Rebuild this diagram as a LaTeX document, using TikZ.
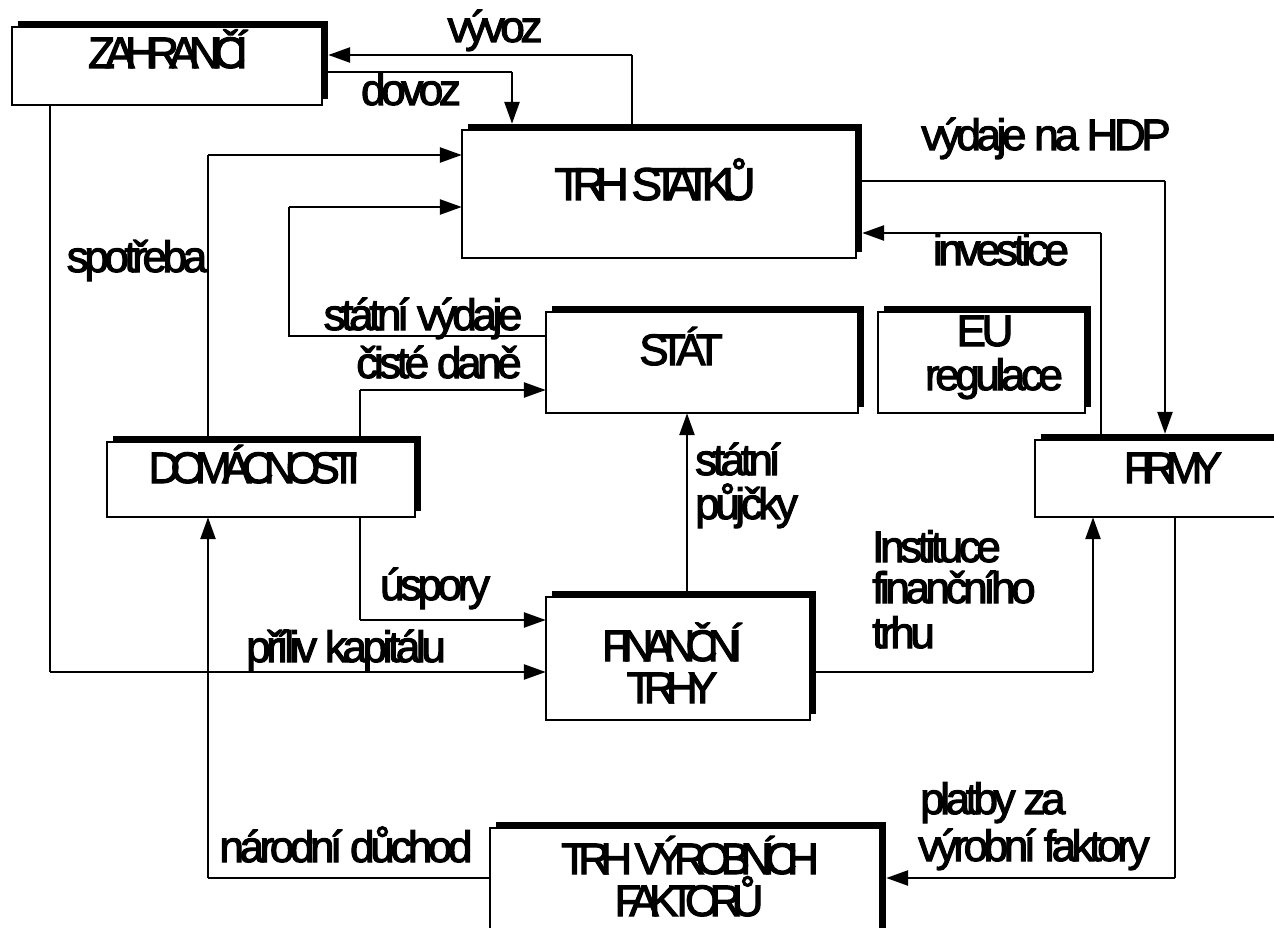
\documentclass[tikz,border=0pt]{standalone}
\usepackage{fontspec}
\setmainfont{Liberation Sans}
\newfontfamily\boxfont{Liberation Sans}[LetterSpace=-22, FakeBold=2.5]
\newfontfamily\labfont{Liberation Sans}[LetterSpace=-10, FakeBold=2.5]
\usetikzlibrary{arrows.meta,shadows}
\begin{document}
\begin{tikzpicture}[x=1pt,y=-1pt,
  box/.style={draw=black, fill=white, line width=1.6pt, inner sep=0pt,
    drop shadow={shadow xshift=6pt, shadow yshift=6pt, opacity=1, fill=black}},
  conn/.style={line width=2pt},
  arr/.style={line width=2.6pt, -{Triangle[length=22pt,width=15pt]}},
  bt/.style={font=\boxfont\fontsize{44}{36}\selectfont, inner sep=0pt, anchor=base},
  lt/.style={font=\labfont\fontsize{44}{38}\selectfont, inner sep=0pt, anchor=base},
  ml/.style={font=\labfont\fontsize{44}{37}\selectfont, inner sep=0pt, anchor=base west}]
\useasboundingbox (0,0) rectangle (1274,928);
\fill[white] (0,0) rectangle (1274,928);

% box nodes
\path
  (167,66)     node[minimum width=310, minimum height=78]  (zah)  {}
  (659,194)    node[minimum width=394, minimum height=128] (ts)   {}
  (702,362.5)  node[minimum width=312, minimum height=101] (stat) {}
  (981.5,362.5) node[minimum width=207, minimum height=101] (eu)  {}
  (261,479.5)  node[minimum width=308, minimum height=75]  (dom)  {}
  (1162.5,478.5) node[minimum width=255, minimum height=77] (fir) {}
  (678,658.5)  node[minimum width=264, minimum height=123] (fin)  {}
  (685,884)    node[minimum width=390, minimum height=112] (trhv) {};

% bend coordinates
\coordinate (vx) at (632,55);
\coordinate (dv) at (512,72);
\coordinate (sp) at (208,155);
\coordinate (sv) at (289,336);
\coordinate (sv2) at (289,207);
\coordinate (cd) at (360,390);
\coordinate (vh) at (1165,181);
\coordinate (iv) at (1101,233);
\coordinate (sj) at (687,500);
\coordinate (us) at (360,620);
\coordinate (pk) at (50,672);
\coordinate (ff) at (1093,672);
\coordinate (pl) at (1175,878);
\coordinate (nd) at (208,878);

% connectors
\draw[conn] (ts.north -| vx) -- (vx);
\draw[arr] (vx) -- ([xshift=6pt]zah.east |- vx);
\draw[conn] (zah.east |- dv) -- (dv);
\draw[arr] (dv) -- ([yshift=6pt]dv |- ts.north);
\draw[conn] (dom.north -| sp) -- (sp);
\draw[arr] (sp) -- (ts.west |- sp);
\draw[conn] (stat.west |- sv) -- (sv) -- (sv2);
\draw[arr] (sv2) -- (ts.west |- sv2);
\draw[conn] (dom.north -| cd) -- (cd);
\draw[arr] (cd) -- (stat.west |- cd);
\draw[conn] (ts.east |- vh) -- (vh);
\draw[arr] (vh) -- ([yshift=6pt]vh |- fir.north);
\draw[conn] (fir.north -| iv) -- (iv);
\draw[arr] (iv) -- ([xshift=6pt]ts.east |- iv);
\draw[arr] (fin.north -| sj) -- (stat.south -| sj);
\draw[conn] (dom.south -| us) -- (us);
\draw[arr] (us) -- (fin.west |- us);
\draw[conn] (zah.south -| pk) -- (pk);
\draw[arr] (pk) -- (fin.west |- pk);
\draw[conn] (fin.east |- ff) -- (ff);
\draw[arr] (ff) -- (ff |- fir.south);
\draw[conn] (fir.south -| pl) -- (pl);
\draw[arr] (pl) -- ([xshift=6pt]trhv.east |- pl);
\draw[conn] (trhv.west |- nd) -- (nd);
\draw[arr] (nd) -- (nd |- dom.south);

% boxes drawn over connector starts
\foreach \b in {zah,ts,stat,eu,dom,fir,fin,trhv}{
  \path[box] (\b.south west) rectangle (\b.north east);
}

% box texts
\node[bt] (tzah) at (168,68) {ZAHRANIČÍ};
\node[bt, font=\boxfont\fontsize{46}{38}\selectfont] (tts) at (655,200) {TRH STATKŮ};
\node[bt] (tstat) at (681,365) {STÁT};
\node[lt] (teu1) at (985,346) {EU};
\node[lt] (teu2) at (994,390) {regulace};
\node[bt] (tdom) at (254,483) {DOMÁCNOSTI};
\node[bt] (tfir) at (1173,483) {FIRMY};
\node[bt] (tfin1) at (672,661) {FINANČNÍ};
\node[bt] (tfin2) at (672,703) {TRHY};
\node[bt] (ttrhv1) at (690,874) {TRH VÝROBNÍCH};
\node[bt] (ttrhv2) at (689,916) {FAKTORŮ};

% connector labels
\node[lt] (lvyvoz) at (495,42) {vývoz};
\node[lt] (ldovoz) at (411,105) {dovoz};
\node[lt] (lhdp) at (1046,150) {výdaje na HDP};
\node[lt] (linv) at (1001,265) {investice};
\node[lt] (lspot) at (137,272) {spotřeba};
\node[lt] (lsv) at (423,330) {státní výdaje};
\node[lt] (lcd) at (439,378) {čisté daně};
\node[lt] (lus) at (435,600) {úspory};
\node[lt] (lpk) at (346,662) {příliv kapitálu};
\node[lt] (lnd) at (346,862) {národní důchod};
\node[ml] (lsj1) at (695,475) {státní};
\node[ml] (lsj2) at (695,519) {půjčky};
\node[ml] (lift1) at (872,562) {Instituce};
\node[ml] (lift2) at (872,603) {finančního};
\node[ml] (lift3) at (872,648) {trhu};
\node[ml] (lpl1) at (920,814) {platby za};
\node[ml] (lpl2) at (918,861) {výrobní faktory};
\end{tikzpicture}
\end{document}
